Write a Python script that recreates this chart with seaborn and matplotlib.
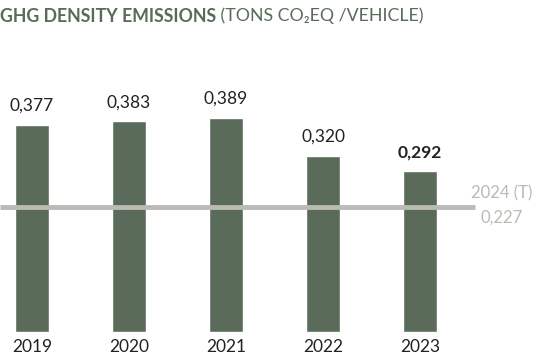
import matplotlib
matplotlib.use("Agg")
import matplotlib.pyplot as plt
import seaborn as sns
import pandas as pd

years = ["2019", "2020", "2021", "2022", "2023"]
values = [0.377, 0.383, 0.389, 0.320, 0.292]
value_labels = ["0,377", "0,383", "0,389", "0,320", "0,292"]
target_value = 0.227
target_label_top = "2024 (T)"
target_label_bottom = "0,227"
title_bold = "GHG DENSITY EMISSIONS"
title_regular = " (TONS CO\u2082EQ /VEHICLE)"

BAR = "#5b6b5a"
GREY = "#b9bbb4"
TXT = "#222222"

sns.set_theme(style="white")
plt.rcParams["font.family"] = ["Lato", "DejaVu Sans"]

W, H = 548, 362
fig = plt.figure(figsize=(W / 100, H / 100), dpi=100)
ax = fig.add_axes([0, 30 / H, 1, 332 / H])

df = pd.DataFrame({"year": years, "value": values})
sns.barplot(data=df, x="year", y="value", color=BAR, width=0.35, saturation=1, ax=ax, zorder=2)

x0 = -32 / 97
x1 = (W - 32) / 97
ax.set_xlim(x0, x1)
ax.set_ylim(0, 332 / 550)

ax.hlines(target_value, x0, (475 - 32) / 97, color=GREY, linewidth=3.5, zorder=3)

for i, (v, lab) in enumerate(zip(values, value_labels)):
    ax.annotate(lab, (i, v), xytext=(0, 8), textcoords="offset points",
                ha="center", va="bottom", fontsize=12.5, color=TXT,
                fontweight="bold" if i == len(values) - 1 else "normal")

tx = (502 - 32) / 97
ax.annotate(target_label_top, (tx, target_value), xytext=(0, 4), textcoords="offset points",
            ha="center", va="bottom", fontsize=12, color=GREY)
ax.annotate(target_label_bottom, (tx, target_value), xytext=(0, -2), textcoords="offset points",
            ha="center", va="top", fontsize=12, color=GREY)

ax.set_xlabel("")
ax.set_ylabel("")
ax.set_yticks([])
ax.tick_params(axis="x", length=0, pad=5, labelsize=12.5, labelcolor=TXT)
for s in ax.spines.values():
    s.set_visible(False)

t1 = fig.text(0 / W, 1 - 16 / H, title_bold, ha="left", va="center", fontsize=12.8,
              fontweight="bold", color=BAR)
fig.canvas.draw()
bb = t1.get_window_extent()
fig.text(bb.x1 / W, 1 - 16 / H, title_regular, ha="left", va="center", fontsize=12.8,
         color=BAR)

fig.savefig("out.png", dpi=100)
